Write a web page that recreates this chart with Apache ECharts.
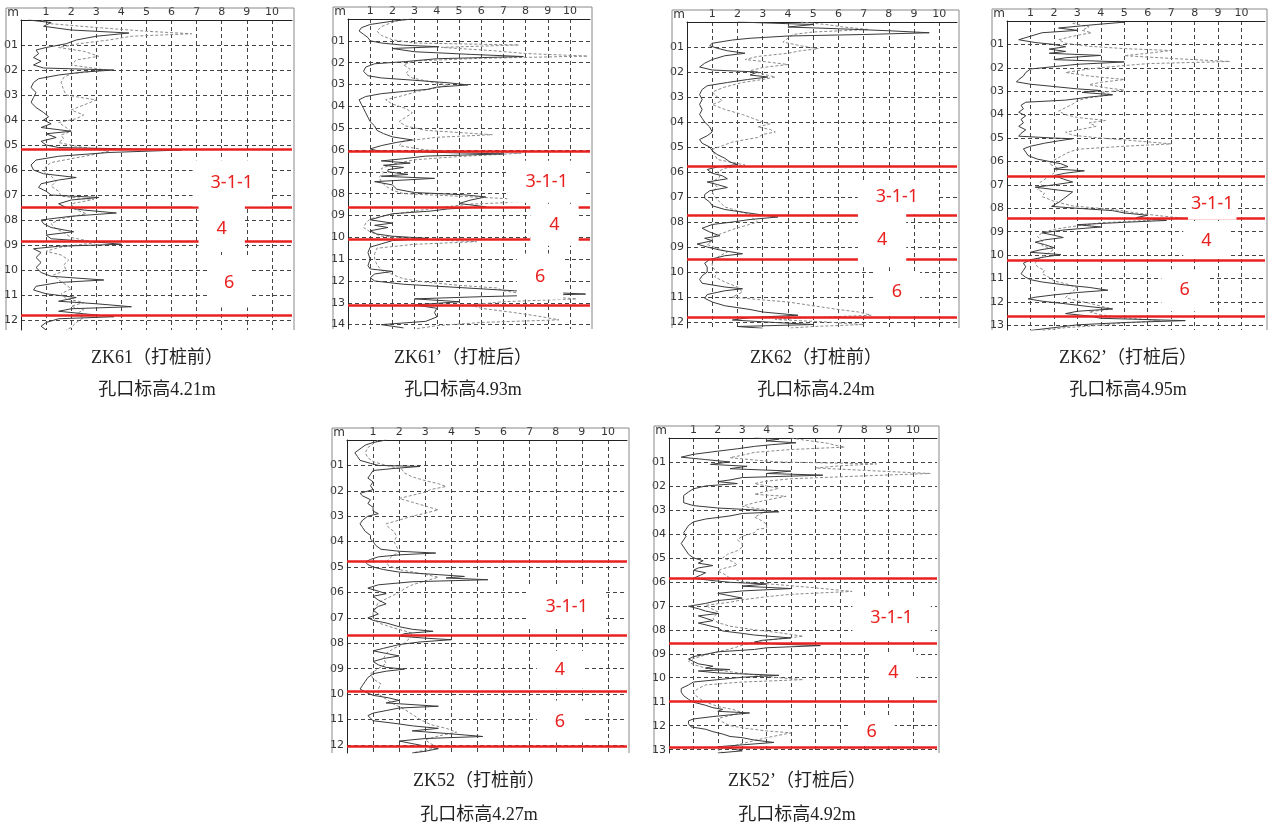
<!DOCTYPE html>
<html>
<head>
<meta charset="utf-8">
<title>静力触探曲线 打桩前后对比</title>
<script src="https://cdn.jsdelivr.net/npm/echarts@6/dist/echarts.min.js"></script>
<style>
  html, body { margin: 0; padding: 0; background: #fff; }
  #chart { width: 1268px; height: 828px; }
</style>
</head>
<body>
<div id="chart"></div>
<script>
// 土层名称
const layerNames = ['3-1-1', '4', '6']

// 每个孔: [深度m, 读数]  实线=锥尖阻力, 虚线=侧壁摩阻
const zk61Qc = [[0,0.3],[0.1,1.2],[0.25,0.9],[0.4,2.0],[0.52,4.3],[0.65,3.0],[0.8,2.2],[0.95,1.8],[1.1,1.0],[1.2,0.6],[1.35,0.7],[1.5,0.5],[1.65,0.8],[1.8,0.5],[1.92,0.9],[2.0,3.7],[2.08,2.5],[2.2,1.5],[2.35,0.7],[2.5,0.5],[2.7,0.4],[2.9,0.6],[3.1,0.5],[3.3,0.4],[3.5,0.6],[3.7,0.9],[3.87,1.1],[4.0,0.9],[4.15,1.2],[4.3,0.8],[4.45,2.0],[4.55,1.0],[4.7,1.4],[4.85,0.8],[5.0,1.0],[5.1,1.5],[5.2,6.4],[5.3,3.5],[5.45,1.5],[5.6,0.6],[5.8,0.4],[6.0,0.5],[6.15,0.9],[6.3,2.2],[6.4,1.5],[6.55,0.8],[6.7,0.7],[6.85,1.0],[7.0,1.2],[7.1,3.1],[7.2,2.0],[7.35,1.5],[7.5,1.8],[7.6,2.5],[7.72,3.8],[7.85,2.0],[8.0,0.8],[8.15,0.9],[8.3,1.2],[8.47,2.1],[8.6,1.0],[8.75,1.2],[8.88,3.0],[8.97,4.0],[9.05,1.5],[9.15,0.5],[9.3,0.8],[9.5,0.6],[9.7,0.8],[9.9,0.6],[10.1,0.8],[10.25,1.2],[10.4,3.3],[10.5,1.5],[10.65,0.6],[10.8,0.5],[10.95,1.0],[11.1,2.2],[11.25,1.5],[11.35,3.0],[11.47,4.4],[11.55,2.0],[11.65,1.5],[11.75,2.5],[11.87,3.7],[11.95,1.5],[12.1,1.0],[12.25,0.8],[12.4,1.0]]
const zk61Fs = [[0,0.8],[0.15,1.2],[0.3,3.0],[0.45,5.0],[0.55,6.8],[0.65,4.4],[0.8,3.5],[0.95,2.3],[1.1,1.5],[1.25,2.5],[1.45,3.1],[1.6,2.2],[1.8,2.0],[2.0,3.4],[2.15,2.0],[2.3,1.7],[2.5,1.6],[2.8,1.7],[3.0,1.8],[3.2,3.0],[3.4,2.5],[3.6,2.0],[3.8,2.5],[3.95,2.2],[4.1,1.5],[4.3,1.8],[4.45,2.0],[4.6,1.6],[4.75,1.7],[4.9,1.5],[5.05,2.2],[5.25,3.5],[5.4,2.8],[5.55,2.0],[5.7,1.2],[5.85,1.0],[6.05,0.9],[6.25,1.2],[6.45,1.4],[6.65,1.2],[6.85,1.5],[7.05,1.6],[7.18,2.9],[7.35,2.0],[7.55,2.1],[7.75,2.6],[7.95,1.6],[8.15,1.2],[8.35,1.4],[8.5,1.7],[8.7,2.0],[8.9,3.0],[9.1,1.5],[9.25,1.0],[9.4,1.6],[9.6,1.9],[9.8,1.7],[10.0,1.8],[10.2,1.3],[10.4,1.5],[10.6,1.8],[10.75,2.0],[10.95,1.6],[11.15,1.8],[11.3,2.5],[11.45,2.0],[11.6,2.5],[11.75,2.2],[11.9,2.5],[12.1,2.2],[12.3,2.0],[12.4,1.8]]
const zk61Layers = [5.16, 7.49, 8.87, 11.8]
const zk61LabelPos = [[8.4, 6.53], [8.0, 8.36], [8.3, 10.5]]

const zk61bQc = [[0,2.9],[0.1,2.0],[0.25,1.0],[0.4,0.6],[0.55,0.5],[0.7,0.7],[0.85,0.9],[1.0,1.0],[1.1,1.5],[1.2,2.5],[1.27,4.1],[1.35,2.0],[1.5,3.0],[1.62,5.5],[1.72,7.9],[1.82,4.0],[1.95,2.6],[2.05,1.2],[2.2,0.8],[2.4,0.7],[2.6,0.9],[2.7,1.5],[2.8,2.9],[2.92,4.5],[3.02,5.4],[3.12,4.0],[3.22,3.6],[3.32,2.5],[3.42,1.5],[3.55,0.8],[3.7,0.5],[3.9,0.6],[4.1,0.7],[4.3,0.8],[4.5,0.9],[4.7,1.0],[4.9,1.2],[5.1,1.3],[5.25,1.6],[5.4,2.0],[5.54,2.9],[5.65,2.2],[5.8,1.5],[5.95,1.0],[6.05,1.4],[6.18,7.0],[6.28,3.5],[6.4,2.5],[6.5,1.5],[6.6,2.8],[6.7,1.6],[6.8,2.5],[6.9,1.8],[7.0,1.8],[7.12,2.7],[7.2,1.5],[7.3,3.9],[7.45,1.2],[7.6,2.0],[7.8,2.2],[7.95,3.0],[8.05,5.2],[8.15,6.2],[8.3,5.5],[8.45,5.0],[8.6,6.2],[8.7,4.5],[8.8,3.7],[8.92,2.0],[9.05,1.5],[9.2,1.0],[9.35,2.0],[9.45,1.2],[9.55,1.8],[9.7,1.0],[9.85,1.3],[9.95,2.0],[10.05,3.6],[10.15,2.0],[10.3,1.5],[10.45,1.0],[10.7,0.9],[11.0,1.0],[11.3,0.9],[11.45,1.0],[11.56,2.0],[11.68,1.2],[11.85,1.0],[12.0,1.2],[12.15,2.5],[12.3,5.0],[12.45,7.5],[12.6,10.7],[12.72,6.0],[12.82,3.0],[12.95,5.0],[13.1,3.0],[13.25,4.0],[13.45,3.9],[13.65,4.0],[13.85,3.5],[14.0,1.5],[14.15,2.5]]
const zk61bFs = [[0,2.5],[0.15,2.0],[0.35,1.5],[0.55,1.3],[0.75,1.5],[0.95,2.0],[1.1,3.0],[1.19,7.7],[1.3,4.2],[1.45,6.5],[1.58,8.0],[1.7,10.8],[1.8,6.0],[1.92,3.0],[2.1,2.5],[2.3,2.8],[2.5,2.6],[2.7,2.9],[2.9,3.8],[3.02,4.5],[3.15,4.0],[3.3,3.2],[3.5,2.5],[3.7,1.7],[3.9,2.0],[4.1,2.6],[4.3,2.9],[4.5,2.6],[4.7,2.3],[4.9,2.6],[5.1,3.5],[5.3,6.5],[5.42,4.0],[5.6,2.5],[5.8,2.3],[6.0,3.5],[6.15,7.8],[6.3,5.0],[6.45,3.0],[6.65,2.0],[6.85,1.5],[7.05,1.6],[7.25,1.4],[7.45,1.5],[7.65,1.7],[7.85,2.0],[8.0,2.5],[8.12,5.0],[8.22,7.0],[8.35,8.6],[8.48,5.5],[8.65,4.0],[8.8,3.0],[8.95,2.0],[9.15,1.0],[9.35,0.8],[9.55,0.7],[9.75,1.0],[9.95,1.5],[10.1,3.5],[10.2,5.8],[10.32,3.0],[10.5,1.3],[10.75,1.2],[11.0,1.2],[11.25,1.3],[11.5,1.5],[11.7,2.0],[11.9,2.5],[12.05,3.5],[12.2,5.0],[12.32,6.7],[12.45,7.0],[12.6,8.0],[12.72,9.0],[12.82,10.3],[12.95,7.0],[13.1,5.5],[13.25,6.0],[13.45,7.5],[13.6,8.5],[13.78,9.5],[13.9,6.0],[14.05,4.0],[14.2,3.0]]
const zk61bLayers = [6.07, 8.62, 10.08, 13.09]
const zk61bLabelPos = [[8.95, 7.45], [9.3, 9.43], [8.65, 11.8]]

const zk62Qc = [[0,2.0],[0.1,5.0],[0.2,4.0],[0.27,6.0],[0.35,8.0],[0.43,9.6],[0.5,7.0],[0.56,4.0],[0.65,2.5],[0.72,1.8],[0.85,1.0],[0.95,0.9],[1.05,1.2],[1.15,1.6],[1.25,2.3],[1.35,1.5],[1.5,1.0],[1.65,0.7],[1.8,0.5],[1.92,1.0],[2.0,2.8],[2.12,2.5],[2.2,3.2],[2.3,2.4],[2.42,1.6],[2.55,0.8],[2.7,0.6],[2.9,0.5],[3.1,0.6],[3.3,0.5],[3.5,0.6],[3.7,0.5],[3.85,0.6],[4.0,0.7],[4.2,0.9],[4.4,1.0],[4.55,0.8],[4.7,0.5],[4.85,0.6],[5.0,0.9],[5.15,1.0],[5.3,1.2],[5.45,1.5],[5.6,1.7],[5.7,2.0],[5.8,1.2],[5.9,0.8],[6.05,1.0],[6.15,1.4],[6.27,1.6],[6.4,0.8],[6.5,1.2],[6.62,1.6],[6.75,0.9],[6.9,0.7],[7.05,0.7],[7.2,0.9],[7.35,1.0],[7.5,1.5],[7.62,2.3],[7.72,3.0],[7.8,3.6],[7.9,2.5],[8.0,1.8],[8.1,1.0],[8.25,0.6],[8.4,0.9],[8.55,1.3],[8.65,0.7],[8.75,1.0],[8.88,0.4],[9.0,0.8],[9.12,1.3],[9.27,2.2],[9.35,1.5],[9.5,0.9],[9.65,0.7],[9.8,0.8],[10.0,0.8],[10.15,0.6],[10.3,0.5],[10.45,0.6],[10.6,1.5],[10.67,2.2],[10.75,1.5],[10.9,0.8],[11.05,0.7],[11.2,1.0],[11.35,1.5],[11.5,2.5],[11.6,3.0],[11.73,4.4],[11.82,2.5],[11.92,1.8],[12.02,3.5],[12.1,5.0],[12.18,2.0],[12.25,3.0]]
const zk62Fs = [[0,4.5],[0.1,5.5],[0.2,6.2],[0.3,7.2],[0.4,5.0],[0.5,4.2],[0.65,4.0],[0.8,3.8],[0.95,4.5],[1.07,5.2],[1.15,4.5],[1.25,4.0],[1.38,2.8],[1.5,2.3],[1.6,3.2],[1.7,4.0],[1.82,3.0],[1.95,2.5],[2.08,3.0],[2.2,3.5],[2.3,3.0],[2.42,2.2],[2.6,1.5],[2.8,1.0],[3.0,1.2],[3.15,1.4],[3.3,1.0],[3.5,1.5],[3.7,2.2],[3.85,2.6],[4.0,3.0],[4.07,3.3],[4.2,2.8],[4.3,3.3],[4.4,3.5],[4.5,3.0],[4.62,2.8],[4.8,1.8],[4.95,1.4],[5.1,1.0],[5.3,1.1],[5.5,1.2],[5.62,1.8],[5.72,2.3],[5.85,1.5],[6.0,1.2],[6.2,1.3],[6.4,1.0],[6.6,1.2],[6.8,1.0],[7.0,1.1],[7.2,1.3],[7.4,1.5],[7.55,2.0],[7.7,2.5],[7.85,2.6],[8.0,2.8],[8.15,2.3],[8.3,1.8],[8.45,1.4],[8.6,1.0],[8.75,1.0],[8.9,0.8],[9.05,1.2],[9.2,1.6],[9.35,1.3],[9.5,1.1],[9.65,1.0],[9.8,1.0],[10.0,1.2],[10.2,1.1],[10.4,1.5],[10.6,2.0],[10.8,2.2],[11.0,1.8],[11.1,2.8],[11.2,4.0],[11.35,5.0],[11.5,6.0],[11.6,6.8],[11.73,7.3],[11.82,5.0],[11.9,3.5],[12.0,5.5],[12.1,7.0],[12.18,5.0],[12.25,4.0]]
const zk62Layers = [5.77, 7.73, 9.47, 11.8]
const zk62LabelPos = [[8.32, 7.0], [7.73, 8.73], [8.32, 10.8]]

const zk62bQc = [[0,4.7],[0.05,5.0],[0.15,3.8],[0.3,2.2],[0.4,3.0],[0.5,1.5],[0.65,1.0],[0.8,0.5],[0.92,1.2],[1.0,2.0],[1.1,2.5],[1.2,1.8],[1.3,2.5],[1.38,1.8],[1.47,4.0],[1.57,2.5],[1.65,2.0],[1.75,5.0],[1.85,3.0],[1.95,2.0],[2.05,1.0],[2.2,0.8],[2.35,0.7],[2.5,0.5],[2.6,0.4],[2.7,1.0],[2.8,2.0],[2.9,3.0],[2.97,4.0],[3.05,3.2],[3.15,4.5],[3.25,3.5],[3.38,2.5],[3.47,0.8],[3.6,0.6],[3.75,0.7],[3.9,0.5],[4.05,0.8],[4.2,0.6],[4.35,0.7],[4.5,0.5],[4.65,0.8],[4.8,0.6],[4.92,0.5],[5.0,2.0],[5.03,2.8],[5.12,2.2],[5.22,1.6],[5.35,1.0],[5.46,0.7],[5.6,0.8],[5.75,0.9],[5.9,1.3],[6.0,1.8],[6.1,2.3],[6.22,2.6],[6.32,2.0],[6.4,3.3],[6.5,2.5],[6.6,2.0],[6.75,2.4],[6.88,2.8],[7.0,2.0],[7.1,1.2],[7.2,2.0],[7.3,2.8],[7.45,2.6],[7.6,2.4],[7.75,2.2],[7.92,1.9],[8.0,3.0],[8.1,4.5],[8.2,5.0],[8.3,6.0],[8.4,5.5],[8.52,6.8],[8.6,5.0],[8.7,3.0],[8.8,4.0],[8.92,2.5],[9.05,1.5],[9.15,2.0],[9.25,2.4],[9.35,1.6],[9.45,1.2],[9.55,1.6],[9.68,2.0],[9.78,1.4],[9.88,1.0],[9.98,2.3],[10.08,1.6],[10.2,1.0],[10.35,0.7],[10.5,0.8],[10.65,0.7],[10.8,0.6],[10.95,0.8],[11.05,1.0],[11.15,1.5],[11.28,2.5],[11.38,3.5],[11.5,4.3],[11.6,3.0],[11.7,2.0],[11.8,1.2],[11.87,0.9],[11.97,1.5],[12.08,2.5],[12.2,3.5],[12.3,4.5],[12.4,3.0],[12.5,2.5],[12.6,3.5],[12.7,4.0],[12.8,7.6],[12.88,5.0],[12.98,3.0],[13.1,2.0],[13.22,1.0]]
const zk62bFs = [[0,3.0],[0.1,2.8],[0.25,3.5],[0.4,3.2],[0.5,3.6],[0.65,2.8],[0.8,2.2],[0.95,2.5],[1.08,3.5],[1.18,5.0],[1.26,7.0],[1.38,6.0],[1.48,5.0],[1.6,7.0],[1.73,9.5],[1.82,6.0],[1.92,4.8],[2.05,3.5],[2.2,2.5],[2.35,3.5],[2.5,5.0],[2.62,4.0],[2.72,3.5],[2.85,4.2],[2.95,5.0],[3.05,4.0],[3.15,4.5],[3.28,3.5],[3.4,3.0],[3.55,2.8],[3.7,2.5],[3.85,2.2],[4.0,2.5],[4.12,3.0],[4.25,4.2],[4.35,3.5],[4.5,3.8],[4.62,3.2],[4.75,2.5],[4.88,2.8],[5.0,4.0],[5.12,5.5],[5.25,7.0],[5.35,5.0],[5.48,3.0],[5.62,2.6],[5.78,2.3],[5.95,2.0],[6.1,1.8],[6.3,2.2],[6.5,2.0],[6.7,1.7],[6.9,1.4],[7.05,1.5],[7.2,1.3],[7.35,1.6],[7.5,1.5],[7.7,2.0],[7.9,2.8],[8.05,4.5],[8.2,5.5],[8.32,6.5],[8.42,7.5],[8.52,6.0],[8.62,4.0],[8.75,3.0],[8.9,2.0],[9.05,1.5],[9.2,1.3],[9.4,1.5],[9.6,1.5],[9.75,2.0],[9.9,1.8],[10.05,1.5],[10.2,1.3],[10.35,1.2],[10.5,1.3],[10.65,1.6],[10.8,1.5],[10.95,1.8],[11.1,2.0],[11.25,2.6],[11.4,3.0],[11.55,2.8],[11.7,2.6],[11.82,2.5],[11.95,3.0],[12.05,3.5],[12.18,4.0],[12.3,4.5],[12.42,3.5],[12.55,4.0],[12.68,5.0],[12.8,6.5],[12.9,5.0],[13.0,4.0],[13.1,2.5],[13.22,1.5]]
const zk62bLayers = [6.63, 8.42, 10.23, 12.62]
const zk62bLabelPos = [[8.75, 7.81], [8.5, 9.38], [7.57, 11.5]]

const zk52Qc = [[0,1.5],[0.1,1.0],[0.2,0.7],[0.35,0.5],[0.5,0.3],[0.65,0.4],[0.8,0.5],[0.92,0.9],[1.0,1.2],[1.04,2.8],[1.12,1.8],[1.2,1.0],[1.35,0.9],[1.5,0.8],[1.65,1.0],[1.8,0.9],[1.95,1.0],[2.1,0.5],[2.2,0.6],[2.35,0.9],[2.5,0.8],[2.65,1.0],[2.8,1.0],[2.9,1.2],[3.0,0.8],[3.15,0.6],[3.3,0.5],[3.45,0.6],[3.6,0.7],[3.75,0.9],[3.9,0.9],[4.0,1.0],[4.15,1.1],[4.3,1.3],[4.38,2.0],[4.45,3.4],[4.52,2.0],[4.6,1.2],[4.7,0.9],[4.8,0.7],[4.9,0.8],[5.0,1.0],[5.1,1.4],[5.2,2.0],[5.3,3.5],[5.37,4.5],[5.43,3.8],[5.5,5.4],[5.58,2.5],[5.7,1.2],[5.83,0.8],[5.95,1.2],[6.05,1.5],[6.15,1.0],[6.3,1.2],[6.45,1.5],[6.55,1.2],[6.7,1.0],[6.85,1.2],[7.0,0.8],[7.1,1.0],[7.2,1.5],[7.35,2.0],[7.45,2.5],[7.53,3.3],[7.62,2.2],[7.72,2.0],[7.8,3.0],[7.86,4.0],[7.95,2.8],[8.05,2.0],[8.2,1.4],[8.3,1.0],[8.4,1.5],[8.5,2.0],[8.6,1.4],[8.72,1.0],[8.85,1.2],[8.95,1.5],[9.02,2.2],[9.1,1.5],[9.2,1.0],[9.35,0.8],[9.5,0.7],[9.65,0.6],[9.8,0.5],[9.92,0.7],[10.05,1.0],[10.15,1.6],[10.25,2.0],[10.35,1.5],[10.48,3.5],[10.55,2.0],[10.65,1.5],[10.75,1.0],[10.85,0.8],[10.95,0.9],[11.05,1.0],[11.15,1.8],[11.25,2.5],[11.35,3.5],[11.45,2.5],[11.55,3.8],[11.67,5.2],[11.75,3.0],[11.85,2.0],[11.95,2.5],[12.05,3.0],[12.15,3.5],[12.25,3.0],[12.32,2.5]]
const zk52Fs = [[0,1.2],[0.15,1.0],[0.3,0.8],[0.5,0.7],[0.7,0.8],[0.85,1.0],[1.0,1.5],[1.15,2.1],[1.3,2.2],[1.45,2.5],[1.6,3.0],[1.72,3.5],[1.83,3.8],[1.95,3.2],[2.05,3.0],[2.2,2.4],[2.3,2.0],[2.45,2.5],[2.6,3.0],[2.75,3.5],[2.88,3.0],[3.0,2.5],[3.15,2.0],[3.3,1.5],[3.45,1.6],[3.6,1.8],[3.8,1.9],[4.0,1.8],[4.2,1.9],[4.4,2.0],[4.6,1.7],[4.8,1.5],[4.95,1.6],[5.1,2.0],[5.25,2.8],[5.4,3.5],[5.55,3.0],[5.7,2.5],[5.85,2.2],[6.0,2.0],[6.2,1.6],[6.4,1.2],[6.6,1.1],[6.8,1.0],[7.0,1.0],[7.2,1.2],[7.4,1.8],[7.6,2.5],[7.8,2.4],[8.0,2.2],[8.2,1.8],[8.4,1.5],[8.6,1.4],[8.8,1.5],[9.0,1.2],[9.2,0.9],[9.4,1.0],[9.6,1.3],[9.8,1.2],[10.0,1.2],[10.2,1.5],[10.4,1.8],[10.6,2.2],[10.8,2.5],[11.0,2.8],[11.2,3.2],[11.35,3.8],[11.5,4.2],[11.65,3.5],[11.8,3.0],[11.95,3.2],[12.1,3.5],[12.2,3.0],[12.32,2.5]]
const zk52Layers = [4.78, 7.7, 9.9, 12.07]
const zk52LabelPos = [[8.42, 6.55], [8.16, 9.04], [8.16, 11.08]]

const zk52bQc = [[0,3.5],[0.05,4.5],[0.12,4.0],[0.2,5.2],[0.28,4.2],[0.35,3.5],[0.45,2.8],[0.55,2.0],[0.68,1.0],[0.8,0.5],[0.9,1.5],[1.0,2.5],[1.1,1.7],[1.18,3.2],[1.28,2.5],[1.38,5.0],[1.48,4.0],[1.55,6.3],[1.65,3.0],[1.75,2.5],[1.82,2.0],[1.9,2.8],[2.0,1.5],[2.12,1.0],[2.25,0.8],[2.4,0.6],[2.55,0.6],[2.7,0.6],[2.82,1.0],[2.92,2.0],[3.0,3.5],[3.08,4.5],[3.15,3.0],[3.25,2.5],[3.38,1.5],[3.5,1.0],[3.65,0.8],[3.8,0.7],[3.95,0.6],[4.1,0.7],[4.25,0.6],[4.4,0.5],[4.55,0.6],[4.7,0.7],[4.85,0.8],[5.0,1.0],[5.12,1.4],[5.22,1.2],[5.32,1.8],[5.42,1.2],[5.52,1.0],[5.62,1.5],[5.72,1.3],[5.85,1.0],[5.95,1.8],[6.02,2.5],[6.09,4.0],[6.18,3.0],[6.28,5.0],[6.38,3.0],[6.48,2.0],[6.58,2.5],[6.68,3.0],[6.78,2.0],[6.9,1.5],[7.02,0.8],[7.12,1.2],[7.22,1.5],[7.32,2.0],[7.42,1.2],[7.52,1.5],[7.62,1.8],[7.72,1.2],[7.82,1.6],[7.92,2.0],[8.05,2.2],[8.15,3.0],[8.22,3.5],[8.34,5.0],[8.44,3.8],[8.52,3.5],[8.6,4.5],[8.66,6.2],[8.75,4.0],[8.82,3.5],[8.92,2.0],[9.02,1.5],[9.12,1.0],[9.22,0.8],[9.32,1.0],[9.42,1.2],[9.52,1.8],[9.6,1.5],[9.66,2.5],[9.72,1.2],[9.8,2.0],[9.9,4.5],[9.98,3.0],[10.08,2.0],[10.18,1.0],[10.3,0.8],[10.45,0.5],[10.6,0.5],[10.75,0.6],[10.9,0.8],[11.02,1.0],[11.15,1.5],[11.25,1.8],[11.32,2.2],[11.4,2.0],[11.47,3.3],[11.55,2.5],[11.62,1.8],[11.72,1.0],[11.8,0.8],[11.92,0.8],[12.05,0.9],[12.15,1.5],[12.25,1.8],[12.35,2.2],[12.45,2.5],[12.5,3.0],[12.6,3.5],[12.7,4.3],[12.8,3.0],[12.88,2.0],[12.95,2.5],[13.05,3.0],[13.14,2.0]]
const zk52bFs = [[0,5.0],[0.08,5.5],[0.15,6.0],[0.22,6.5],[0.3,6.8],[0.38,7.2],[0.48,5.0],[0.6,3.5],[0.72,3.0],[0.82,2.5],[0.92,3.5],[1.0,4.5],[1.08,8.5],[1.16,7.0],[1.25,6.0],[1.35,8.0],[1.48,10.7],[1.58,8.0],[1.7,5.0],[1.8,4.0],[1.9,3.5],[2.0,4.0],[2.1,4.5],[2.22,4.0],[2.35,3.5],[2.43,4.8],[2.55,4.2],[2.7,3.5],[2.85,3.0],[3.0,4.0],[3.15,3.8],[3.3,3.5],[3.45,3.8],[3.6,4.0],[3.75,4.0],[3.82,3.6],[3.95,3.5],[4.1,3.0],[4.25,2.8],[4.4,3.0],[4.55,3.0],[4.7,2.8],[4.85,2.4],[5.0,2.2],[5.15,2.6],[5.3,2.8],[5.45,2.2],[5.55,2.0],[5.7,2.3],[5.85,2.5],[6.0,3.0],[6.12,4.5],[6.25,6.0],[6.4,7.5],[6.52,5.0],[6.62,4.0],[6.75,3.0],[6.85,2.5],[6.98,1.5],[7.1,1.7],[7.25,2.0],[7.4,1.9],[7.55,1.8],[7.7,2.0],[7.85,2.5],[8.0,3.5],[8.12,4.5],[8.27,5.5],[8.38,4.5],[8.5,3.5],[8.65,3.0],[8.8,2.5],[8.92,2.0],[9.05,1.5],[9.2,1.0],[9.32,0.8],[9.45,1.0],[9.6,1.5],[9.75,2.5],[9.88,3.5],[10.0,4.5],[10.08,5.5],[10.18,3.0],[10.3,1.5],[10.45,1.2],[10.6,1.0],[10.75,1.1],[10.9,1.3],[11.05,1.6],[11.2,2.0],[11.32,2.6],[11.45,3.0],[11.58,2.5],[11.7,2.0],[11.85,2.2],[12.0,2.5],[12.12,3.2],[12.22,4.0],[12.3,5.0],[12.4,4.5],[12.5,4.0],[12.62,3.5],[12.75,3.0],[12.88,2.5],[13.0,2.0],[13.14,2.2]]
const zk52bLayers = [5.87, 8.55, 11.0, 12.9]
const zk52bLabelPos = [[9.12, 7.5], [9.19, 9.8], [8.3, 12.24]]

const captionNames = ['ZK61（打桩前）', 'ZK61’（打桩后）', 'ZK62（打桩前）', 'ZK62’（打桩后）', 'ZK52（打桩前）', 'ZK52’（打桩后）']
const captionElev = ['孔口标高4.21m', '孔口标高4.93m', '孔口标高4.24m', '孔口标高4.95m', '孔口标高4.27m', '孔口标高4.92m']

// 版面 (像素) 与各图坐标范围
const panels = [
  { qc: zk61Qc, fs: zk61Fs, layers: zk61Layers, labelPos: zk61LabelPos, left: 21, top: 20, width: 271, height: 310, xMax: 10.8, dMax: 12.4, capX: 157, capTop: 348, capGap: 12, pads: [[14, 18], [14, 18], [16, 16]] },
  { qc: zk61bQc, fs: zk61bFs, layers: zk61bLayers, labelPos: zk61bLabelPos, left: 348, top: 19, width: 242, height: 310, xMax: 10.9, dMax: 14.2, capX: 463, capTop: 348, capGap: 12, pads: [[12, 18], [12, 19], [14, 18]] },
  { qc: zk62Qc, fs: zk62Fs, layers: zk62Layers, labelPos: zk62LabelPos, left: 687, top: 22, width: 270, height: 306, xMax: 10.7, dMax: 12.24, capX: 816, capTop: 348, capGap: 12, pads: [[8, 18], [18, 19], [12, 18]] },
  { qc: zk62bQc, fs: zk62bFs, layers: zk62bLayers, labelPos: zk62bLabelPos, left: 1007, top: 21, width: 258, height: 309, xMax: 11.0, dMax: 13.2, capX: 1128, capTop: 348, capGap: 12, pads: [[7, 3], [9, 18], [12, 18]] },
  { qc: zk52Qc, fs: zk52Fs, layers: zk52Layers, labelPos: zk52LabelPos, left: 347, top: 440, width: 280, height: 313, xMax: 10.73, dMax: 12.32, capX: 479, capTop: 771, capGap: 14, pads: [[12, 18], [10, 18], [12, 18]] },
  { qc: zk52bQc, fs: zk52bFs, layers: zk52bLayers, labelPos: zk52bLabelPos, left: 669, top: 438, width: 268, height: 315, xMax: 10.98, dMax: 13.14, capX: 797, capTop: 771, capGap: 14, pads: [[12, 18], [12, 18], [5, 18]] },
]

const chart = echarts.init(document.getElementById('chart'))

const isInt = (v) => Math.abs(v - Math.round(v)) < 1e-6

const grid = []
const xAxis = []
const yAxis = []
const series = []
const title = []
const graphic = []

panels.forEach((p, i) => {
  grid.push({ left: p.left, top: p.top, width: p.width, height: p.height, show: false })

  xAxis.push({
    gridIndex: i,
    type: 'value',
    position: 'top',
    min: 0,
    max: p.xMax,
    interval: 1,
    axisLine: { show: true, onZero: false, lineStyle: { color: '#222', width: 1 } },
    axisTick: { show: false },
    axisLabel: {
      margin: 2,
      fontSize: 11,
      color: '#333',
      fontFamily: 'DejaVu Sans',
      showMaxLabel: false,
      formatter: (v) => (v > 0 && isInt(v) ? String(Math.round(v)) : ''),
    },
    splitLine: {
      show: true,
      showMinLine: false,
      showMaxLine: false,
      lineStyle: { color: '#444', width: 1, type: [4, 3] },
    },
  })

  yAxis.push({
    gridIndex: i,
    type: 'value',
    inverse: true,
    min: 0,
    max: p.dMax,
    interval: 1,
    name: 'm',
    nameLocation: 'start',
    nameGap: 1,
    nameTextStyle: { fontSize: 12, color: '#333', align: 'right', verticalAlign: 'bottom', padding: [0, 2, 0, 0], fontFamily: 'DejaVu Sans' },
    axisLine: { show: true, onZero: false, lineStyle: { color: '#222', width: 1 } },
    axisTick: { show: false },
    axisLabel: {
      margin: 3,
      fontSize: 11,
      color: '#333',
      fontFamily: 'DejaVu Sans',
      showMaxLabel: false,
      formatter: (v) => (v > 0 && isInt(v) ? String(Math.round(v)).padStart(2, '0') : ''),
    },
    splitLine: {
      show: true,
      showMinLine: false,
      showMaxLine: false,
      lineStyle: { color: '#444', width: 1, type: [4, 3] },
    },
  })

  // 侧壁摩阻 (虚线)
  series.push({
    type: 'line',
    xAxisIndex: i,
    yAxisIndex: i,
    data: p.fs.map(([d, v]) => [v, d]),
    showSymbol: false,
    silent: true,
    z: 2,
    lineStyle: { color: '#8a8a8a', width: 1, type: [3, 2] },
  })
  // 锥尖阻力 (实线)
  series.push({
    type: 'line',
    xAxisIndex: i,
    yAxisIndex: i,
    data: p.qc.map(([d, v]) => [v, d]),
    showSymbol: false,
    silent: true,
    z: 2,
    lineStyle: { color: '#3a3a3a', width: 1 },
  })
  // 土层分界线
  series.push({
    type: 'scatter',
    xAxisIndex: i,
    yAxisIndex: i,
    data: [],
    silent: true,
    z: 3,
    markLine: {
      silent: true,
      z: 3,
      symbol: 'none',
      label: { show: false },
      lineStyle: { color: '#e8211f', width: 2.5, type: 'solid', opacity: 1 },
      data: p.layers.map((d) => ({ yAxis: d })),
    },
  })
  // 土层编号 (白底遮住分界线和网格)
  series.push({
    type: 'scatter',
    xAxisIndex: i,
    yAxisIndex: i,
    symbolSize: 0,
    silent: true,
    z: 8,
    itemStyle: { opacity: 1 },
    data: p.labelPos.map((pos, k) => ({
      value: pos,
      label: {
        show: true,
        position: 'inside',
        formatter: layerNames[k],
        color: '#e8211f',
        fontSize: 18,
        lineHeight: 18,
        fontFamily: 'Noto Sans',
        backgroundColor: '#fff',
        padding: p.pads[k],
      },
    })),
  })

  title.push({
    text: captionNames[i],
    subtext: captionElev[i],
    left: p.capX,
    top: p.capTop,
    textAlign: 'center',
    padding: 0,
    itemGap: p.capGap,
    textStyle: { fontSize: 18, fontWeight: 'normal', color: '#222', lineHeight: 20, fontFamily: 'Liberation Serif, Noto Sans CJK SC, serif' },
    subtextStyle: { fontSize: 18, color: '#222', lineHeight: 20, fontFamily: 'Liberation Serif, Noto Sans CJK SC, serif' },
  })

  // 外框 (左、上、右)
  const L = p.left - 15
  const R = p.left + p.width + 2
  const T = p.top - 12
  const B = p.top + p.height
  graphic.push({
    type: 'polyline',
    silent: true,
    z: 10,
    shape: { points: [[L, B], [L, T], [R, T], [R, B]] },
    style: { stroke: '#888', lineWidth: 1, fill: null },
  })
})

chart.setOption({
  animation: false,
  backgroundColor: '#fff',
  title,
  grid,
  xAxis,
  yAxis,
  series,
  graphic,
})
</script>
</body>
</html>
